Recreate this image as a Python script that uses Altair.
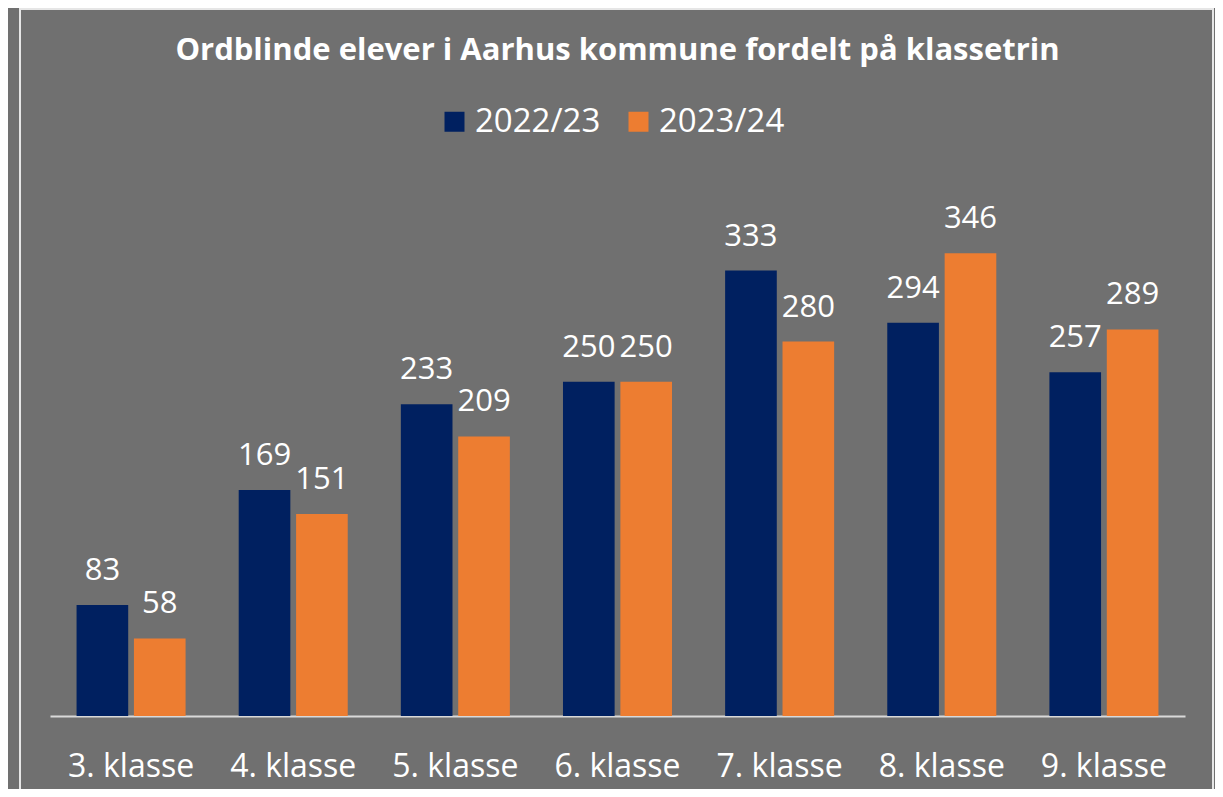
import altair as alt
import pandas as pd

categories = ["3. klasse", "4. klasse", "5. klasse", "6. klasse", "7. klasse", "8. klasse", "9. klasse"]
series_names = ["2022/23", "2023/24"]
values_2022 = [83, 169, 233, 250, 333, 294, 257]
values_2023 = [58, 151, 209, 250, 280, 346, 289]
title_text = "Ordblinde elever i Aarhus kommune fordelt på klassetrin"

rows = []
for c, a, b in zip(categories, values_2022, values_2023):
    rows.append({"klasse": c, "år": series_names[0], "antal": a})
    rows.append({"klasse": c, "år": series_names[1], "antal": b})
df = pd.DataFrame(rows)

FONT = "Open Sans"
BG = "#707070"

x_enc = alt.X("klasse:N", sort=categories, title=None,
              scale=alt.Scale(paddingInner=0.3276, paddingOuter=0.1638),
              axis=alt.Axis(labelAngle=0, labelFontSize=32, labelColor="white",
                            labelFont=FONT, ticks=False, labelPadding=35,
                            domainColor="#d9d9d9", domainWidth=2, grid=False))
xoff = alt.XOffset("år:N", sort=series_names, scale=alt.Scale(paddingInner=0.1))
y_enc = alt.Y("antal:Q", scale=alt.Scale(domain=[0, 400]), axis=None)
color_enc = alt.Color("år:N", sort=series_names,
                      scale=alt.Scale(domain=series_names, range=["#002060", "#ED7D31"]),
                      legend=alt.Legend(title=None, orient="none", direction="horizontal",
                                        legendX=388, legendY=-76, symbolType="square",
                                        symbolSize=400, symbolStrokeWidth=0,
                                        labelFontSize=33, labelColor="white", labelFont=FONT,
                                        columnPadding=21, symbolOffset=0, labelOffset=4,
                                        padding=0))

base = alt.Chart(df)
bars = base.mark_bar().encode(x=x_enc, xOffset=xoff, y=y_enc, color=color_enc)
labels = base.mark_text(baseline="alphabetic", dy=-25, fontSize=31, color="white", font=FONT).encode(
    x=x_enc, xOffset=xoff, y=y_enc, text="antal:Q")

frame = alt.Chart(pd.DataFrame({"k": [0]})).mark_rect(
    fill=None, stroke="#e6e6e6", strokeWidth=2, clip=False).encode(
    x=alt.value(-30), x2=alt.value(1163), y=alt.value(-172), y2=alt.value(640))

chart = alt.layer(frame, bars, labels).properties(
    width=1135, height=535,
    padding={"left": 42, "top": 173, "right": 30, "bottom": 73},
    autosize=alt.AutoSizeParams(type="none"),
    background=BG,
    title=alt.Title(title_text, fontSize=31, font=FONT, fontWeight="bold", color="white",
                    anchor="middle", offset=-59),
).configure_view(stroke=None)

chart.save("out.html", embed_options={"renderer": "svg", "actions": False})
